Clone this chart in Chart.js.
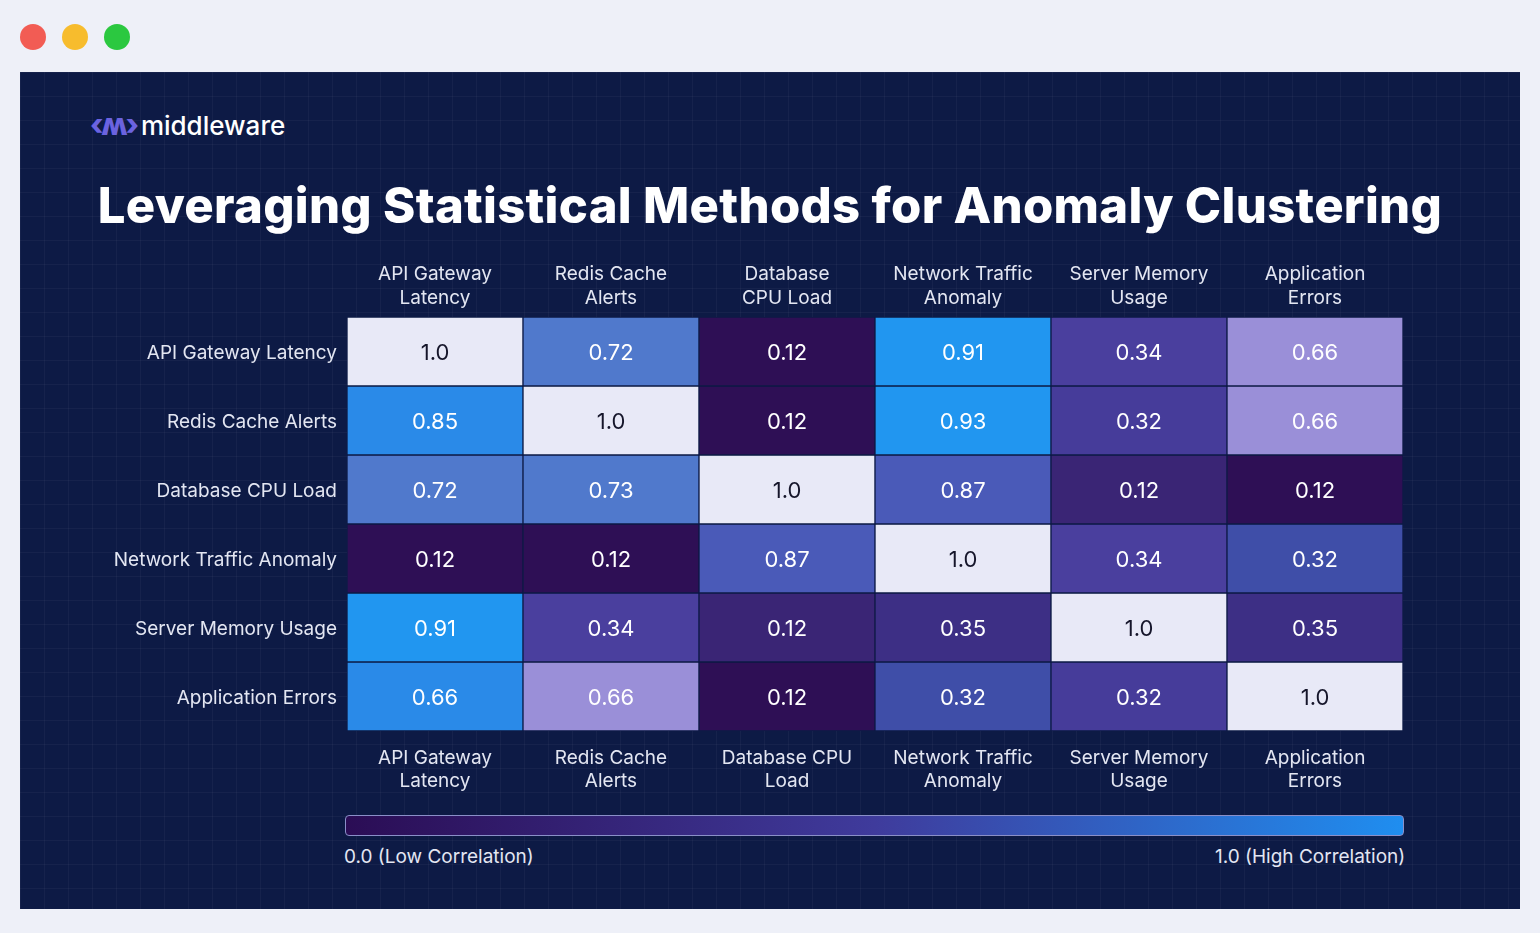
<!DOCTYPE html>
<html>
<head>
<meta charset="utf-8">
<script src="https://cdn.jsdelivr.net/npm/chart.js@4"></script>
<style>
  body { margin: 0; width: 1540px; height: 933px; background: #eef0f8; font-family: Inter, "Noto Sans", sans-serif; overflow: hidden; }
  .dot { position: absolute; top: 24px; width: 26px; height: 26px; border-radius: 50%; }
  #panel { position: absolute; left: 20px; top: 72px; width: 1500px; height: 837px;
    background-color: #0d1a45;
    background-image: linear-gradient(rgba(255,255,255,0.035) 1px, transparent 1px), linear-gradient(90deg, rgba(255,255,255,0.035) 1px, transparent 1px);
    background-size: 24px 24px; }
  #logo { position: absolute; left: 70px; top: 34px; color: #fff; font-size: 26px; font-weight: 500; }
  #logo span { color: #6b63e0; font-weight: 800; font-size: 30px; margin-right: 4px; letter-spacing: -2px; }
  h1 { position: absolute; left: 0; width: 1500px; top: 104px; margin: 0; text-align: center; color: #fff; font-size: 49px; font-weight: 800; letter-spacing: 0.3px; }
  #wrap { position: absolute; left: 80px; top: 183px; width: 1320px; height: 545px; }
  #bar { position: absolute; left: 325px; top: 743px; width: 1057px; height: 19px; border-radius: 4px; border: 1px solid #8a8fc8;
    background: linear-gradient(90deg, #2b0d55, #3f3b9c 50%, #1f8ef0); }
  .lab { position: absolute; top: 773px; color: #e3e6f2; font-size: 19px; }
</style>
</head>
<body>
<div class="dot" style="left:20px;background:#f25c54"></div>
<div class="dot" style="left:62px;background:#f7bc2d"></div>
<div class="dot" style="left:104px;background:#2bc840"></div>
<div id="panel">
  <div id="logo"><span>‹ʍ›</span>middleware</div>
  <h1>Leveraging Statistical Methods for Anomaly Clustering</h1>
  <div id="wrap"><canvas id="heat"></canvas></div>
  <div id="bar"></div>
  <div class="lab" style="left:324px">0.0 (Low Correlation)</div>
  <div class="lab" style="left:1195px">1.0 (High Correlation)</div>
</div>
<script>
let metrics = ['API Gateway Latency', 'Redis Cache Alerts', 'Database CPU Load', 'Network Traffic Anomaly', 'Server Memory Usage', 'Application Errors'];
let topLabels = [['API Gateway', 'Latency'], ['Redis Cache', 'Alerts'], ['Database', 'CPU Load'], ['Network Traffic', 'Anomaly'], ['Server Memory', 'Usage'], ['Application', 'Errors']];
let bottomLabels = [['API Gateway', 'Latency'], ['Redis Cache', 'Alerts'], ['Database CPU', 'Load'], ['Network Traffic', 'Anomaly'], ['Server Memory', 'Usage'], ['Application', 'Errors']];
let values = [
  ['1.0', '0.72', '0.12', '0.91', '0.34', '0.66'],
  ['0.85', '1.0', '0.12', '0.93', '0.32', '0.66'],
  ['0.72', '0.73', '1.0', '0.87', '0.12', '0.12'],
  ['0.12', '0.12', '0.87', '1.0', '0.34', '0.32'],
  ['0.91', '0.34', '0.12', '0.35', '1.0', '0.35'],
  ['0.66', '0.66', '0.12', '0.32', '0.32', '1.0']
];
// cell colours as seen in the picture
let shades = [
  ['#e8e9f7', '#5079cc', '#2e0f55', '#2196f0', '#4a3f9e', '#9a8fd8'],
  ['#2a8ae8', '#e8e9f7', '#2e0f55', '#2196f0', '#463c9a', '#9a8fd8'],
  ['#5079cc', '#5079cc', '#e8e9f7', '#4a5ab8', '#3a2575', '#2e0f55'],
  ['#2e0f55', '#2e0f55', '#4a5ab8', '#e8e9f7', '#4a3f9e', '#3f4ea8'],
  ['#2196f0', '#4a3f9e', '#3a2575', '#3d2f85', '#e8e9f7', '#3d2f85'],
  ['#2a8ae8', '#9a8fd8', '#2e0f55', '#3f4ea8', '#463c9a', '#e8e9f7']
];

let datasets = [];
for (let r = 0; r < metrics.length; r++) {
  datasets.push({
    label: metrics[r],
    data: metrics.map(() => [r, r + 1]),
    backgroundColor: shades[r],
    borderColor: '#0d1a45',
    borderWidth: 1,
    borderSkipped: false,
    grouped: false,
    barPercentage: 1,
    categoryPercentage: 1
  });
}

let cellText = {
  id: 'cellText',
  afterDatasetsDraw(chart) {
    let ctx = chart.ctx;
    ctx.save();
    ctx.font = '22px Inter';
    ctx.textAlign = 'center';
    ctx.textBaseline = 'middle';
    chart.data.datasets.forEach((ds, r) => {
      chart.getDatasetMeta(r).data.forEach((bar, c) => {
        ctx.fillStyle = values[r][c] === '1.0' ? '#15152a' : '#ffffff';
        ctx.fillText(values[r][c], bar.x, (bar.y + bar.base) / 2 + 2);
      });
    });
    ctx.restore();
  }
};

let tickFont = { family: 'Inter', size: 19, lineHeight: 1.25 };
new Chart(document.getElementById('heat'), {
  type: 'bar',
  data: { labels: metrics, datasets: datasets },
  options: {
    responsive: true,
    maintainAspectRatio: false,
    animation: false,
    layout: { padding: { right: 17 } },
    plugins: { legend: { display: false }, tooltip: { enabled: false } },
    scales: {
      x: {
        position: 'bottom',
        grid: { display: false }, border: { display: false },
        ticks: { color: '#e3e6f2', font: tickFont, maxRotation: 0, padding: 7, callback: (v, i) => bottomLabels[i] },
        afterFit(s) { s.height = 69; }
      },
      xTop: {
        type: 'category', position: 'top', labels: metrics,
        grid: { display: false }, border: { display: false },
        ticks: { color: '#e3e6f2', font: tickFont, maxRotation: 0, padding: -1, callback: (v, i) => topLabels[i] },
        afterFit(s) { s.height = 62; }
      },
      y: {
        type: 'linear', min: 0, max: 6, reverse: true,
        grid: { display: false }, border: { display: false },
        afterBuildTicks(s) { s.ticks = metrics.map((m, i) => ({ value: i + 0.53 })); },
        ticks: { color: '#e3e6f2', font: tickFont, padding: 2, callback: (v) => metrics[Math.floor(v)] },
        afterFit(s) { s.width = 247; }
      }
    }
  },
  plugins: [cellText]
});
</script>
</body>
</html>
